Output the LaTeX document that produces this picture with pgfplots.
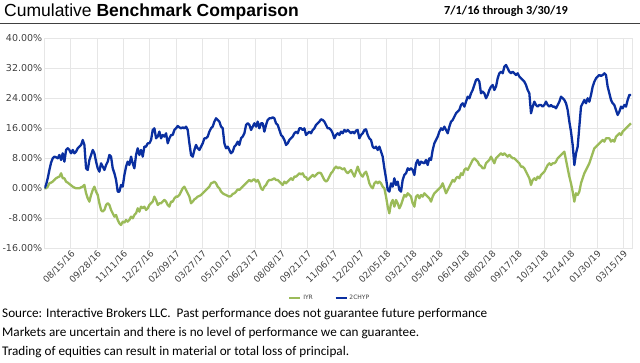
\documentclass[border=0pt]{standalone}
\usepackage{pgfplots}
\pgfplotsset{compat=1.18}
\usepackage{pgfplotstable}
\usepackage{fontspec}
\setmainfont{Carlito}
\newfontfamily\arialf{Liberation Sans}
\newfontfamily\dejavu{DejaVu Sans}
\definecolor{iyr}{HTML}{9BBB59}
\definecolor{chyp}{HTML}{0A2FA0}
\definecolor{gridc}{HTML}{E6E6E6}
\definecolor{txt}{HTML}{404040}

\pgfplotstableread{
s iyr chyp
0 0 0
1 0 0.89
2 0.44 2.67
3 1.33 4.89
4 1.51 6.84
5 1.78 8.00
6 2.22 8.44
7 2.67 8.27
8 2.93 8.00
9 3.11 8.89
10 4.00 7.56
11 2.67 9.33
12 2.67 7.11
13 1.78 10.22
14 1.51 10.67
15 1.16 10.22
16 0.80 9.33
17 0.44 10.22
18 0.18 9.33
19 0 9.78
20 0 10.67
21 0 11.11
22 0.27 11.56
23 0.44 12.89
24 0.89 11.56
25 -1.33 5.33
26 -2.67 4.89
27 -3.56 7.56
28 -1.78 8.89
29 -0.44 10.22
30 0.44 9.33
31 -0.89 7.11
32 -1.78 5.33
33 -4.00 4.44
34 -5.78 6.67
35 -6.22 5.78
36 -5.78 4.89
37 -4.44 6.22
38 -4.00 7.11
39 -4.44 8.89
40 -5.78 8.44
41 -6.67 5.33
42 -7.56 4.00
43 -7.11 2.22
44 -8.44 -0.89
45 -9.33 -0.89
46 -9.78 0.89
47 -8.89 0.44
48 -9.16 3.56
49 -8.44 5.78
50 -8.89 7.11
51 -8.44 6.22
52 -7.56 8.44
53 -8.00 6.67
54 -7.11 5.33
55 -6.67 8.89
56 -5.33 10.67
57 -6.22 8.89
58 -4.89 10.22
59 -5.33 8.44
60 -4.89 11.11
61 -5.78 11.11
62 -5.33 12.00
63 -4.44 12.00
64 -4.00 12.89
65 -3.56 15.56
66 -2.22 16.00
67 -3.11 13.33
68 -4.44 13.78
69 -4.00 15.11
70 -4.00 13.33
71 -3.56 14.22
72 -3.11 13.78
73 -3.56 14.67
74 -4.44 12.00
75 -4.89 13.33
76 -3.56 14.22
77 -3.56 14.22
78 -2.67 15.56
79 -2.22 16.00
80 -2.22 16.62
81 -1.78 16.27
82 -0.89 16.00
83 0 16.27
84 0.44 16.00
85 -0.44 16.44
86 -1.33 15.56
87 -2.22 12.00
88 -4.00 8.89
89 -3.56 8.44
90 -2.93 10.22
91 -2.67 11.56
92 -2.22 10.67
93 -2.04 10.22
94 -1.78 11.11
95 -1.33 12.00
96 -0.89 13.33
97 -0.44 13.33
98 0 13.78
99 0.44 15.11
100 1.33 16.00
101 1.51 16.44
102 1.78 17.78
103 1.33 18.67
104 0.44 18.22
105 0 17.78
106 -0.89 16.44
107 -1.33 16.00
108 -1.60 12.00
109 -1.78 10.67
110 -2.04 11.11
111 -2.22 10.22
112 -2.04 9.33
113 -1.51 9.78
114 -1.33 11.11
115 -0.89 11.56
116 -0.27 12.44
117 -0.44 11.56
118 0 13.33
119 0.44 13.78
120 0.89 14.67
121 1.33 16.89
122 1.78 17.33
123 2.22 16.89
124 1.78 15.56
125 2.22 16.44
126 2.40 17.33
127 1.78 16.44
128 2.22 17.78
129 1.33 16.00
130 0 17.33
131 -0.44 17.33
132 0.44 15.11
133 0.89 16.89
134 1.78 18.22
135 2.22 18.67
136 2.22 18.67
137 2.40 18.93
138 2.67 18.67
139 2.22 17.33
140 2.22 16.89
141 1.78 15.56
142 1.33 14.22
143 0.89 13.78
144 1.78 12.89
145 1.33 11.56
146 1.78 12.00
147 2.22 12.89
148 2.67 13.33
149 2.22 13.78
150 3.11 14.67
151 3.11 15.11
152 3.56 14.67
153 4.00 16.00
154 3.73 16.00
155 4.00 15.56
156 3.11 16.00
157 2.93 14.22
158 2.22 14.67
159 2.67 15.11
160 3.11 14.67
161 3.56 15.56
162 3.11 16.00
163 3.56 16.89
164 4.00 17.33
165 4.18 17.78
166 4.00 18.40
167 3.11 18.22
168 2.22 17.78
169 1.78 16.89
170 2.22 16.00
171 3.11 16.00
172 4.00 15.56
173 4.50 14.67
174 5.33 13.33
175 5.78 14.22
176 5.33 14.67
177 5.60 14.22
178 5.33 15.11
179 5.07 14.67
180 5.33 15.56
181 4.44 15.11
182 4.00 15.56
183 4.44 15.11
184 4.89 14.67
185 4.00 15.11
186 3.11 14.67
187 4.44 15.38
188 5.78 15.56
189 4.44 13.33
190 3.56 14.22
191 3.11 14.67
192 4.00 15.56
193 4.44 15.73
194 3.11 14.22
195 1.33 13.33
196 0.44 12.89
197 0 11.11
198 1.33 10.67
199 1.78 11.11
200 1.33 10.22
201 1.78 11.11
202 1.33 9.78
203 0.44 8.44
204 0 5.33
205 -2.22 2.67
206 -4.89 -0.44
207 -6.67 -0.89
208 -4.00 1.33
209 -3.11 0.44
210 -4.89 2.67
211 -3.11 0.89
212 -4.00 1.78
213 -5.33 -0.44
214 -4.44 -0.89
215 -3.11 2.22
216 -1.78 3.56
217 -2.22 4.00
218 -1.33 5.33
219 -1.78 4.89
220 -2.22 5.33
221 -4.00 4.89
222 -4.89 3.56
223 -2.22 6.67
224 -1.78 7.56
225 -2.67 6.22
226 -1.78 7.11
227 -2.22 6.84
228 -1.33 6.67
229 -1.78 7.56
230 -2.22 6.22
231 -2.67 8.00
232 -3.56 7.56
233 -2.22 10.22
234 -1.33 12.00
235 -0.89 12.89
236 -0.44 13.78
237 0 15.11
238 0.44 16.00
239 1.33 15.56
240 0 16.44
241 -1.33 15.56
242 -0.44 14.67
243 0.44 16.44
244 1.33 17.78
245 2.22 18.22
246 1.78 19.11
247 2.67 20.00
248 3.11 20.44
249 2.67 20.89
250 4.00 22.22
251 3.56 22.67
252 4.89 21.78
253 5.33 23.11
254 4.89 24.44
255 5.78 24.00
256 6.67 25.33
257 7.56 26.22
258 8.00 27.56
259 7.56 28.89
260 7.11 29.16
261 6.22 28.44
262 5.96 25.33
263 5.33 25.78
264 5.33 25.33
265 6.67 24.00
266 7.11 24.89
267 7.56 26.22
268 8.44 27.11
269 7.56 27.56
270 6.67 26.22
271 8.00 27.11
272 8.44 29.33
273 8.89 30.67
274 9.33 31.11
275 8.89 30.67
276 9.33 32.44
277 8.89 32.89
278 8.44 32.00
279 8.89 31.11
280 8.44 30.67
281 8.00 31.11
282 8.00 30.67
283 7.56 30.22
284 7.11 30.67
285 6.67 29.78
286 5.78 29.33
287 5.78 28.89
288 5.33 28.44
289 4.44 27.56
290 3.56 26.22
291 2.67 25.33
292 0.89 20.00
293 2.22 21.78
294 2.67 23.11
295 2.22 22.22
296 3.11 21.78
297 2.67 22.22
298 3.56 22.22
299 4.00 21.78
300 4.44 22.22
301 5.33 23.11
302 6.22 22.22
303 6.67 21.78
304 6.22 22.22
305 6.67 21.78
306 6.67 21.78
307 7.11 21.33
308 8.00 22.22
309 8.44 23.11
310 8.89 24.44
311 9.33 24.00
312 9.78 23.56
313 7.56 22.67
314 5.33 20.89
315 3.11 17.78
316 1.33 15.11
317 -0.89 11.56
318 -3.56 6.20
319 -1.33 9.33
320 -1.78 11.11
321 -0.89 16.44
322 1.33 21.78
323 2.67 22.67
324 4.00 23.56
325 4.89 22.67
326 5.78 24.00
327 6.67 23.11
328 8.00 24.89
329 9.33 27.11
330 10.67 28.44
331 11.11 29.33
332 11.56 29.78
333 12.00 30.22
334 12.44 29.96
335 12.89 30.22
336 12.44 30.67
337 13.33 30.22
338 13.33 27.11
339 13.33 25.33
340 12.44 23.56
341 12.89 22.67
342 12.44 22.22
343 13.78 20.89
344 14.22 19.56
345 14.67 20.44
346 14.22 21.78
347 15.11 21.33
348 15.56 22.22
349 16.00 21.78
350 16.44 23.56
351 16.89 24.89
352 17.33 24.89
}\datatable

\begin{document}
\begin{tikzpicture}
\path[use as bounding box] (0,0) rectangle (640pt,362pt);
\node[anchor=base west, inner sep=0] at (4pt,345pt) {\arialf\fontsize{17.5}{20}\selectfont Cumulative \textbf{Benchmark Comparison}};
\node[anchor=base west, inner sep=0] at (444pt,347pt) {\fontsize{12.3}{14}\selectfont\bfseries 7/1/16 through 3/30/19};
\draw[line width=1.2pt, black!75] (0,338.5pt) -- (640pt,338.5pt);
\begin{axis}[
  at={(44.4pt,113.7pt)}, anchor=south west,
  scale only axis, width=587.6pt, height=210pt,
  xmin=0, xmax=352.6, ymin=-16, ymax=40,
  xtick={15.79,31.57,47.36,63.14,78.93,94.72,110.50,126.29,142.07,157.86,173.65,189.43,205.22,221.00,236.79,252.58,268.36,284.15,299.93,315.72,331.51,347.29},
  xticklabels={08/15/16,09/28/16,11/11/16,12/27/16,02/09/17,03/27/17,05/10/17,06/23/17,08/08/17,09/21/17,11/06/17,12/20/17,02/05/18,03/21/18,05/04/18,06/19/18,08/02/18,09/17/18,10/31/18,12/14/18,01/30/19,03/15/19},
  ytick={-16,-8,0,8,16,24,32,40},
  yticklabels={-16.00\%,-8.00\%,0.00\%,8.00\%,16.00\%,24.00\%,32.00\%,40.00\%},
  grid=major, major grid style={gridc, line width=0.6pt},
  axis line style={gridc, line width=0.6pt},
  tick style={draw=none},
  tick label style={font=\dejavu\fontsize{9.5}{11}\selectfont, text=txt},
  x tick label style={rotate=45, anchor=north east, inner sep=1pt, font=\dejavu\fontsize{9}{10}\selectfont},
  y tick label style={inner sep=2pt},
  legend style={at={(0.486,-0.237)}, anchor=center, draw=none, fill=none,
    legend columns=2, font=\dejavu\fontsize{6}{7}\selectfont, text=txt,
    /tikz/every even column/.append style={column sep=20pt}},
  legend image code/.code={\draw[#1, line width=1.6pt] (0pt,0pt) -- (11pt,0pt);},
]
\addplot[iyr, line width=2.3pt, line join=round] table[x=s,y=iyr]{\datatable};
\addlegendentry{IYR}
\addplot[chyp, line width=2.3pt, line join=round] table[x=s,y=chyp]{\datatable};
\addlegendentry{2CHYP}
\end{axis}
\begin{scope}[every node/.style={anchor=base west, inner sep=0, font=\fontsize{13.2}{15}\selectfont}]
\node at (2pt,45pt) {Source: Interactive Brokers LLC.\ \ Past performance does not guarantee future performance};
\node at (2pt,25.5pt) {Markets are uncertain and there is no level of performance we can guarantee.};
\node at (2pt,7pt) {Trading of equities can result in material or total loss of principal.};
\end{scope}
\end{tikzpicture}
\end{document}
